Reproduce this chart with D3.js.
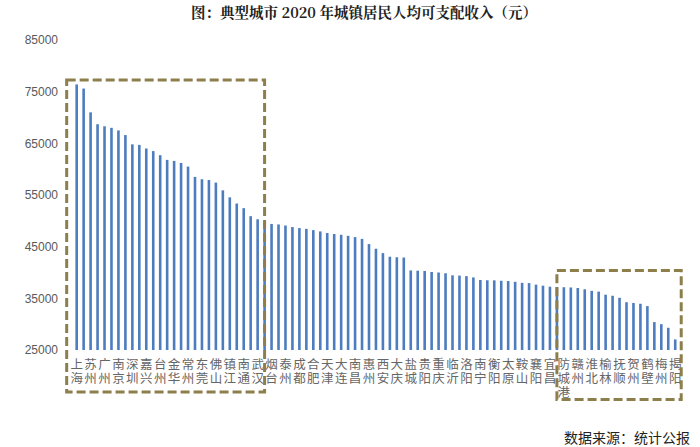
<!DOCTYPE html>
<html>
<head>
<meta charset="utf-8">
<script src="https://cdn.jsdelivr.net/npm/d3@7/dist/d3.min.js"></script>
<style>
  html, body { margin: 0; padding: 0; background: #fff; }
  svg { display: block; }
</style>
</head>
<body>
<svg id="chart" width="700" height="447"></svg>
<script>
// ---- data ----
const title = "图：典型城市 2020 年城镇居民人均可支配收入（元）";
const source = "数据来源：统计公报";
// Only every other city name is shown on the axis; hidden names are left blank.
const categories = [
  "上海","","苏州","","广州","","南京","","深圳","","嘉兴","","台州","","金华","","常州","","东莞","","佛山","","镇江","","南通","","武汉","",
  "烟台","","泰州","","成都","","合肥","","天津","","大连","","南昌","","惠州","","西安","","大庆","","盐城","","贵阳","","重庆","","临沂","",
  "洛阳","","南宁","","衡阳","","太原","","鞍山","","襄阳","","宜昌","","防城港","","赣州","","淮北","","榆林","","抚顺","","贺州","","鹤壁","","梅州","","揭阳"
];
const values = [
  76400,75600,71000,68700,68300,68000,67500,66600,64800,64700,
  64000,63500,62700,61800,61600,61200,60500,58500,58050,57900,
  57400,55900,54550,53350,52450,50900,50300,49700,49400,49300,
  49100,48800,48600,48450,48200,47950,47650,47450,47300,47100,
  46850,46500,45500,44600,43750,43050,42950,42900,40400,40350,
  40300,40100,40000,39850,39450,39400,39300,39050,38550,38500,
  38480,38400,38350,38200,38000,37950,37650,37450,37250,37200,
  37150,37100,37000,36750,36450,36300,35700,35500,35100,34250,
  34100,33950,33500,30400,30000,29300,27050
];
const yTicks = [25000,35000,45000,55000,65000,75000,85000];
// highlighted groups (index ranges of bars)
const groups = [[0, 27], [69, 86]];

// ---- chart ----
const svg = d3.select("#chart");
const n = values.length;

const x = d3.scaleBand()
  .domain(d3.range(n))
  .range([73.2, 678.7])
  .padding(0);
const y = d3.scaleLinear()
  .domain([25000, 85000])
  .range([350, 40]);

const cx = i => x(i) + x.bandwidth() / 2;
const barW = 2.6;

// title
svg.append("text")
  .attr("x", 364).attr("y", 18)
  .attr("text-anchor", "middle")
  .attr("font-family", "'Noto Serif CJK SC','Noto Sans CJK SC',serif")
  .attr("font-weight", "bold")
  .attr("font-size", 14.5)
  .attr("fill", "#222")
  .text(title);

// y axis labels (no line)
const yAxis = d3.axisLeft(y).tickValues(yTicks).tickSize(0).tickPadding(0).tickFormat(d3.format("d"));
const gy = svg.append("g").attr("transform", "translate(58,0)").call(yAxis);
gy.select(".domain").remove();
gy.selectAll("text")
  .attr("font-family", "'Liberation Sans', Arial, sans-serif")
  .attr("font-size", 12)
  .attr("fill", "#595959");

// bars
svg.append("g").selectAll("rect")
  .data(values)
  .join("rect")
  .attr("x", (d, i) => cx(i) - barW / 2)
  .attr("y", d => y(d))
  .attr("width", barW)
  .attr("height", d => y(25000) - y(d))
  .attr("fill", "#4E7DBF");

// x axis labels: every other category, characters stacked (one text per character)
const xAxis = d3.axisBottom(x).tickValues(d3.range(0, n, 2)).tickSize(0).tickFormat(i => categories[i]);
const gx = svg.append("g").attr("transform", `translate(0,${y(25000)})`).call(xAxis);
gx.select(".domain").remove();
gx.selectAll(".tick").each(function(i) {
  const tick = d3.select(this);
  tick.select("text").remove();
  Array.from(categories[i]).forEach((ch, k) => {
    tick.append("text")
      .attr("x", 0).attr("y", 18.5 + k * 14)
      .attr("text-anchor", "middle")
      .attr("font-family", "'Liberation Serif', 'Noto Sans CJK SC', sans-serif")
      .attr("font-size", 12.5)
      .attr("fill", "#666")
      .text(ch);
  });
});

// dashed highlight boxes
const boxColor = "#8D7F4C";
const [g1, g2] = groups;
const box1 = {
  x0: cx(g1[0]) - 10, x1: cx(g1[1]),
  y0: y(d3.max(values.slice(g1[0], g1[1] + 1))) - 4.5, y1: y(25000) + 42
};
const box2 = {
  x0: cx(g2[0]), x1: cx(g2[1]) + 6,
  y0: y(d3.max(values.slice(g2[0], g2[1] + 1))) - 16.5, y1: y(25000) + 49.5
};
[box1, box2].forEach(b => {
  svg.append("rect")
    .attr("x", b.x0).attr("y", b.y0)
    .attr("width", b.x1 - b.x0).attr("height", b.y1 - b.y0)
    .attr("fill", "none")
    .attr("stroke", boxColor)
    .attr("stroke-width", 3)
    .attr("stroke-dasharray", "9,4");
});

// source
svg.append("text")
  .attr("x", 690).attr("y", 443)
  .attr("text-anchor", "end")
  .attr("font-family", "'Noto Sans CJK SC', sans-serif")
  .attr("font-size", 14)
  .attr("fill", "#222")
  .text(source);
</script>
</body>
</html>
